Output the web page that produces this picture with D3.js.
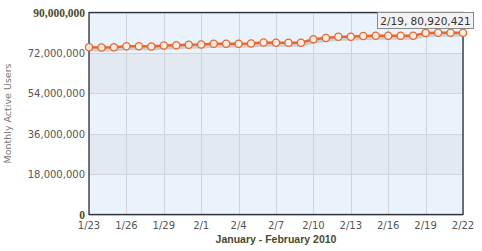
<!DOCTYPE html>
<html><head><meta charset="utf-8">
<script src="https://cdn.jsdelivr.net/npm/d3@7/dist/d3.min.js"></script>
<style>
html,body{margin:0;padding:0;background:#fff;}
svg{display:block;}
</style></head>
<body>
<svg id="chart" width="482" height="251"></svg>
<script>
// ---- data ----
const dates = ["1/23","1/24","1/25","1/26","1/27","1/28","1/29","1/30","1/31",
  "2/1","2/2","2/3","2/4","2/5","2/6","2/7","2/8","2/9","2/10","2/11","2/12",
  "2/13","2/14","2/15","2/16","2/17","2/18","2/19","2/20","2/21","2/22"];
const users = [74540000,74410000,74540000,74980000,74980000,74850000,75290000,75430000,75600000,
  75740000,76050000,76050000,76050000,76200000,76630000,76500000,76500000,76500000,78100000,
  78640000,79170000,79170000,79500000,79620000,79620000,79620000,79620000,80920421,81000000,81000000,81000000];
const xTickLabels = ["1/23","1/26","1/29","2/1","2/4","2/7","2/10","2/13","2/16","2/19","2/22"];
const yTicks = [0,18000000,36000000,54000000,72000000,90000000];
const yTitle = "Monthly Active Users";
const xTitle = "January - February 2010";
const tipIndex = 27;

// ---- layout ----
const L = 89, R = 463, T = 12.5, B = 214.5;
const svg = d3.select("#chart");
const x = d3.scalePoint().domain(dates).range([L, R]);
const y = d3.scaleLinear().domain([0, 90000000]).range([B, T]);
const fmt = d3.format(",");

// background bands
const bands = d3.pairs(yTicks);
svg.append("g").selectAll("rect").data(bands).join("rect")
  .attr("x", L).attr("width", R - L)
  .attr("y", d => y(d[1])).attr("height", d => y(d[0]) - y(d[1]))
  .attr("fill", (d, i) => i % 2 === 0 ? "#eaf3fc" : "#e3e9f1");

// grid
svg.append("g").selectAll("line").data(xTickLabels).join("line")
  .attr("x1", d => Math.round(x(d)) + 0.5).attr("x2", d => Math.round(x(d)) + 0.5)
  .attr("y1", T).attr("y2", B).attr("stroke", "#cdd4dc").attr("stroke-width", 1);
svg.append("g").selectAll("line").data(yTicks).join("line")
  .attr("x1", L).attr("x2", R)
  .attr("y1", d => Math.round(y(d)) + 0.5).attr("y2", d => Math.round(y(d)) + 0.5)
  .attr("stroke", "#cdd4dc").attr("stroke-width", 1);

// border
svg.append("rect").attr("x", L).attr("y", T).attr("width", R - L).attr("height", B - T)
  .attr("fill", "none").attr("stroke", "#2e3038").attr("stroke-width", 1.3);

// y labels
svg.append("g").selectAll("text").data(yTicks).join("text")
  .attr("x", 85).attr("y", d => y(d) + 4)
  .attr("text-anchor", "end")
  .attr("font-family", (d, i) => (i === 0 || i === yTicks.length - 1) ? "'Liberation Serif', serif" : "'DejaVu Sans', Verdana, sans-serif")
  .attr("font-weight", (d, i) => (i === 0 || i === yTicks.length - 1) ? "bold" : "normal")
  .attr("font-size", (d, i) => (i === 0 || i === yTicks.length - 1) ? "11.5px" : "10px")
  .attr("fill", (d, i) => (i === 0 || i === yTicks.length - 1) ? "#4a4a2c" : "#555")
  .text(d => fmt(d));

// x labels
svg.append("g").selectAll("text").data(xTickLabels).join("text")
  .attr("x", d => x(d)).attr("y", 229)
  .attr("text-anchor", "middle")
  .attr("font-family", "'DejaVu Sans', Verdana, sans-serif")
  .attr("font-size", "10px").attr("fill", "#555")
  .text(d => d);

// titles
svg.append("text").attr("x", (L + R) / 2).attr("y", 243)
  .attr("text-anchor", "middle")
  .attr("font-family", "'Liberation Sans', Arial, sans-serif").attr("font-weight", "bold")
  .attr("font-size", "10.5px").attr("fill", "#4a4a2c").text(xTitle);
svg.append("text").attr("transform", `translate(11,${(T + B) / 2}) rotate(-90)`)
  .attr("text-anchor", "middle")
  .attr("font-family", "'DejaVu Sans', Verdana, sans-serif")
  .attr("font-size", "9.5px").attr("fill", "#777").text(yTitle);

// line shadow
const line = d3.line().x((d, i) => x(dates[i])).y(d => y(d));
svg.append("path").datum(users).attr("d", line)
  .attr("transform", "translate(1,2.5)")
  .attr("fill", "none").attr("stroke", "#000").attr("stroke-opacity", 0.15).attr("stroke-width", 3);
// line
svg.append("path").datum(users).attr("d", line)
  .attr("fill", "none").attr("stroke", "#e9672c").attr("stroke-width", 2.5);
// points
svg.append("g").selectAll("circle").data(users).join("circle")
  .attr("cx", (d, i) => x(dates[i])).attr("cy", d => y(d)).attr("r", 3.6)
  .attr("fill", "#fdeee4").attr("stroke", "#e9672c").attr("stroke-width", 1.3);

// tooltip
const tipText = dates[tipIndex] + ", " + fmt(users[tipIndex]);
const tg = svg.append("g");
tg.append("rect").attr("x", 377.5).attr("y", 12.5).attr("width", 96).attr("height", 16)
  .attr("fill", "#f2f2f2").attr("stroke", "#8a8a8a").attr("stroke-width", 1);
tg.append("text").attr("x", 425.5).attr("y", 24.5).attr("text-anchor", "middle")
  .attr("font-family", "'DejaVu Sans', Verdana, sans-serif")
  .attr("font-size", "10.5px").attr("fill", "#333").text(tipText);
</script>
</body></html>
